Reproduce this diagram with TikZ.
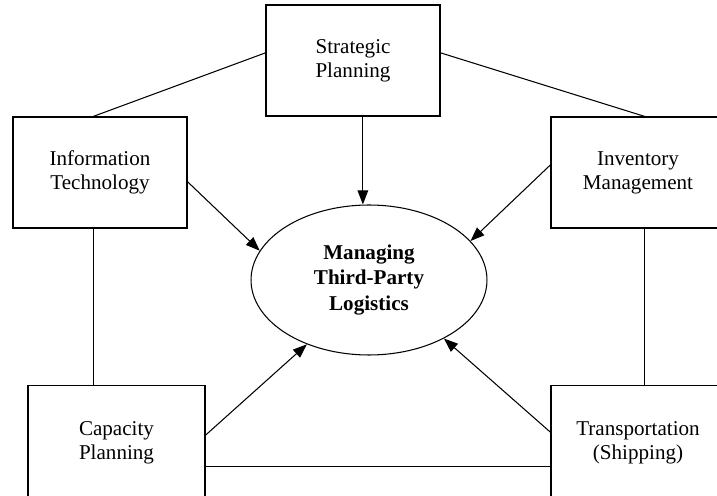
\documentclass[tikz,border=0pt]{standalone}
\usepackage{fontspec}
\setmainfont{Liberation Serif}
\usetikzlibrary{shapes.geometric,arrows.meta,calc}
\tikzset{
  textnode/.style = {align=center, inner sep=0pt, text centered, font=\fontsize{12}{13.7}\selectfont},
  box_n/.style = {textnode, rectangle, draw=black, line width=0.6pt, minimum width=3.48cm, minimum height=2.22cm},
  hub_n/.style = {textnode, ellipse, draw=black, line width=0.6pt, minimum width=4.72cm, minimum height=3cm, font=\fontsize{12}{14.7}\selectfont\bfseries},
  tie_l/.style = {line width=0.6pt},
  arr_l/.style = {tie_l, -{Triangle[length=8pt,width=6pt]}}
}

\begin{document}
\begin{tikzpicture}[x=0.02cm, y=-0.02cm]
\clip (0,0) rectangle (717,496);
\node [box_n] (sp) at (353,60.5) {Strategic\\Planning};
\node [box_n] (it) at (100,172.5) {Information\\Technology};
\node [box_n] (im) at (638,172.5) {Inventory\\Management};
\node [box_n, minimum width=3.54cm, minimum height=2.3cm] (cp) at (116.5,443) {Capacity\\Planning};
\node [box_n, minimum height=2.3cm] (tr) at (638,443) {Transportation\\(Shipping)};
\node [hub_n] (mt) at (369,280) {Managing\\Third-Party\\Logistics};
% outer ring
\draw [tie_l] (sp.175) -- (it.97);
\draw [tie_l] (sp.5) -- (im.83);
\draw [tie_l] (it.263) -- (it.263 |- cp.north);
\draw [tie_l] (im.277) -- (im.277 |- tr.north);
\draw [tie_l] (cp.-15) -- (cp.-15 -| tr.west);
% into the hub
\draw [arr_l] (sp.-80) -- (sp.-80 |- mt.north);
\draw [arr_l] (it.-6) -- (mt.165);
\draw [arr_l] (im.175) -- (mt.21);
\draw [arr_l] (cp.5) -- (mt.-134);
\draw [arr_l] (tr.173) -- (mt.-38);
\end{tikzpicture}
\end{document}
